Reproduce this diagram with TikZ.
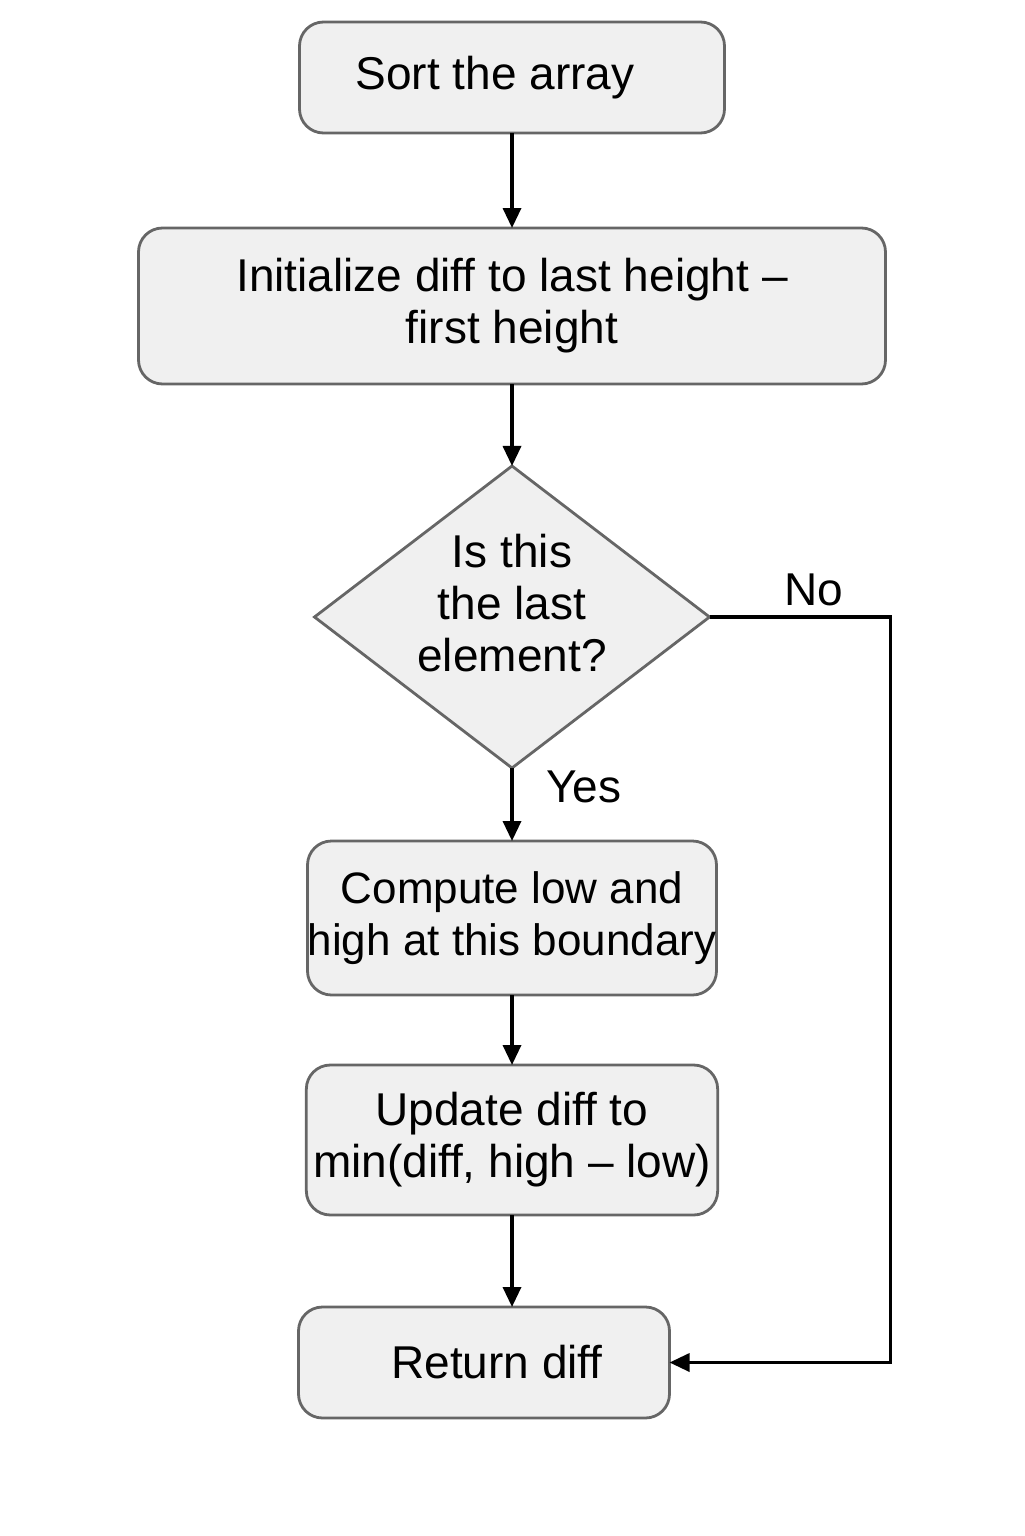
\documentclass[tikz,border=0pt]{standalone}
\usepackage{fontspec}
\setmainfont{Liberation Sans}
\usetikzlibrary{arrows.meta, positioning, shapes.geometric}

\begin{document}
\begin{tikzpicture}[->,>={Triangle[length=10pt,width=9pt]},line width=1.7pt,
  font=\fontsize{23}{26}\selectfont,
  proc/.style={rectangle,rounded corners=12pt,draw=black!60,fill=black!6,line width=1.4pt,outer sep=0pt,align=center},
  test/.style={diamond,aspect=1.31,inner sep=0pt,draw=black!60,fill=black!6,line width=1.4pt,outer sep=0pt}]
  \useasboundingbox (0,0) rectangle (512pt,-768pt);
  \node[proc,minimum width=212.5pt,minimum height=55.5pt] (sort) at (256pt,-38.75pt) {Sort the array\hspace*{17pt}};
  \node[proc,minimum width=373.5pt,minimum height=78pt] (init) [below=47.5pt of sort] {Initialize diff to last height –\\first height};
  \node[test,minimum width=197.5pt,minimum height=151pt] (check) [below=41pt of init] {};
  \node[align=center] (checktext) at ([yshift=7pt]check.center) {Is this\\the last\\element?};
  \node[proc,minimum width=204.5pt,minimum height=77pt,inner xsep=0pt,font=\fontsize{22}{26}\selectfont] (compute) [below=36.5pt of check] {Compute low and\\high at this boundary};
  \node[proc,minimum width=204.5pt,minimum height=75pt] (update) [below=35pt of compute] {Update diff to\\min(diff, high – low)};
  \node[proc,minimum width=185.5pt,minimum height=55.5pt] (ret) [below=46pt of update,xshift=-14pt] {\hspace*{13pt}Return diff};
  \coordinate[right=90.5pt of check.east] (bend);
  \path
    (sort) edge (init)
    (init) edge (check)
    (check) edge node[right=13pt,pos=0.26] {Yes} (compute)
    (compute) edge (update);
  \draw (update.south) -- (update.south |- ret.north);
  \draw (check.east) -- node[above=1.5pt,pos=0.575] {No} (bend) |- (ret.east);
\end{tikzpicture}
\end{document}
